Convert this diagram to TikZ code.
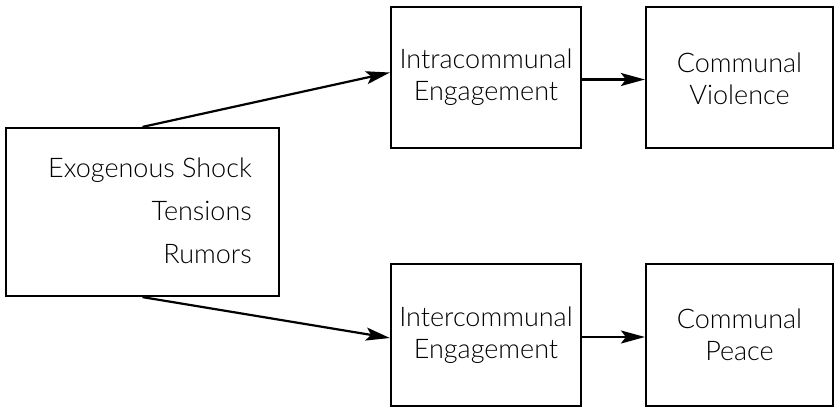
\documentclass[tikz,border=0pt]{standalone}
\usepackage{fontspec}
\setmainfont{Lato}[UprightFont=* Light]
\usetikzlibrary{arrows.meta}
\begin{document}
\begin{tikzpicture}[x=1pt,y=-1pt,
  box/.style={draw, line width=2.2pt, inner sep=0pt},
  lbl/.style={font=\fontsize{27}{32}\selectfont, align=center, inner sep=0pt},
  conn/.style={line width=2.2pt, -{Stealth[length=24pt,width=13pt,inset=5pt]}}]
\useasboundingbox (0,0) rectangle (834,408);
\node[box, minimum width=273pt, minimum height=168pt] (shock) at (142.5,212) {};
\node[anchor=east, align=right, inner sep=0pt, font=\fontsize{27}{43}\selectfont] (shocktxt) at (252,211) {Exogenous Shock\\Tensions\\Rumors};
\node[box, minimum width=190pt, minimum height=141pt] (intra) at (486,77.5) {};
\node[lbl] (intratxt) at (486,77.5) {Intracommunal\\Engagement};
\node[box, minimum width=187pt, minimum height=141pt] (viol) at (739.5,77.5) {};
\node[lbl] (violtxt) at (739.5,79) {Communal\\Violence};
\node[box, minimum width=190pt, minimum height=142pt] (inter) at (486,335) {};
\node[lbl] (intertxt) at (486,335) {Intercommunal\\Engagement};
\node[box, minimum width=187pt, minimum height=142pt] (peace) at (739.5,335) {};
\node[lbl] (peacetxt) at (739.5,335) {Communal\\Peace};
\draw[conn] (shock.north) -- ([yshift=5pt]intra.west);
\draw[conn] (shock.south) -- ([yshift=-3pt]inter.west);
\draw[conn] ([yshift=-2pt]intra.east) -- ([yshift=-2pt]viol.west);
\draw[conn] ([yshift=-2pt]inter.east) -- ([yshift=-2pt]peace.west);
\end{tikzpicture}
\end{document}
